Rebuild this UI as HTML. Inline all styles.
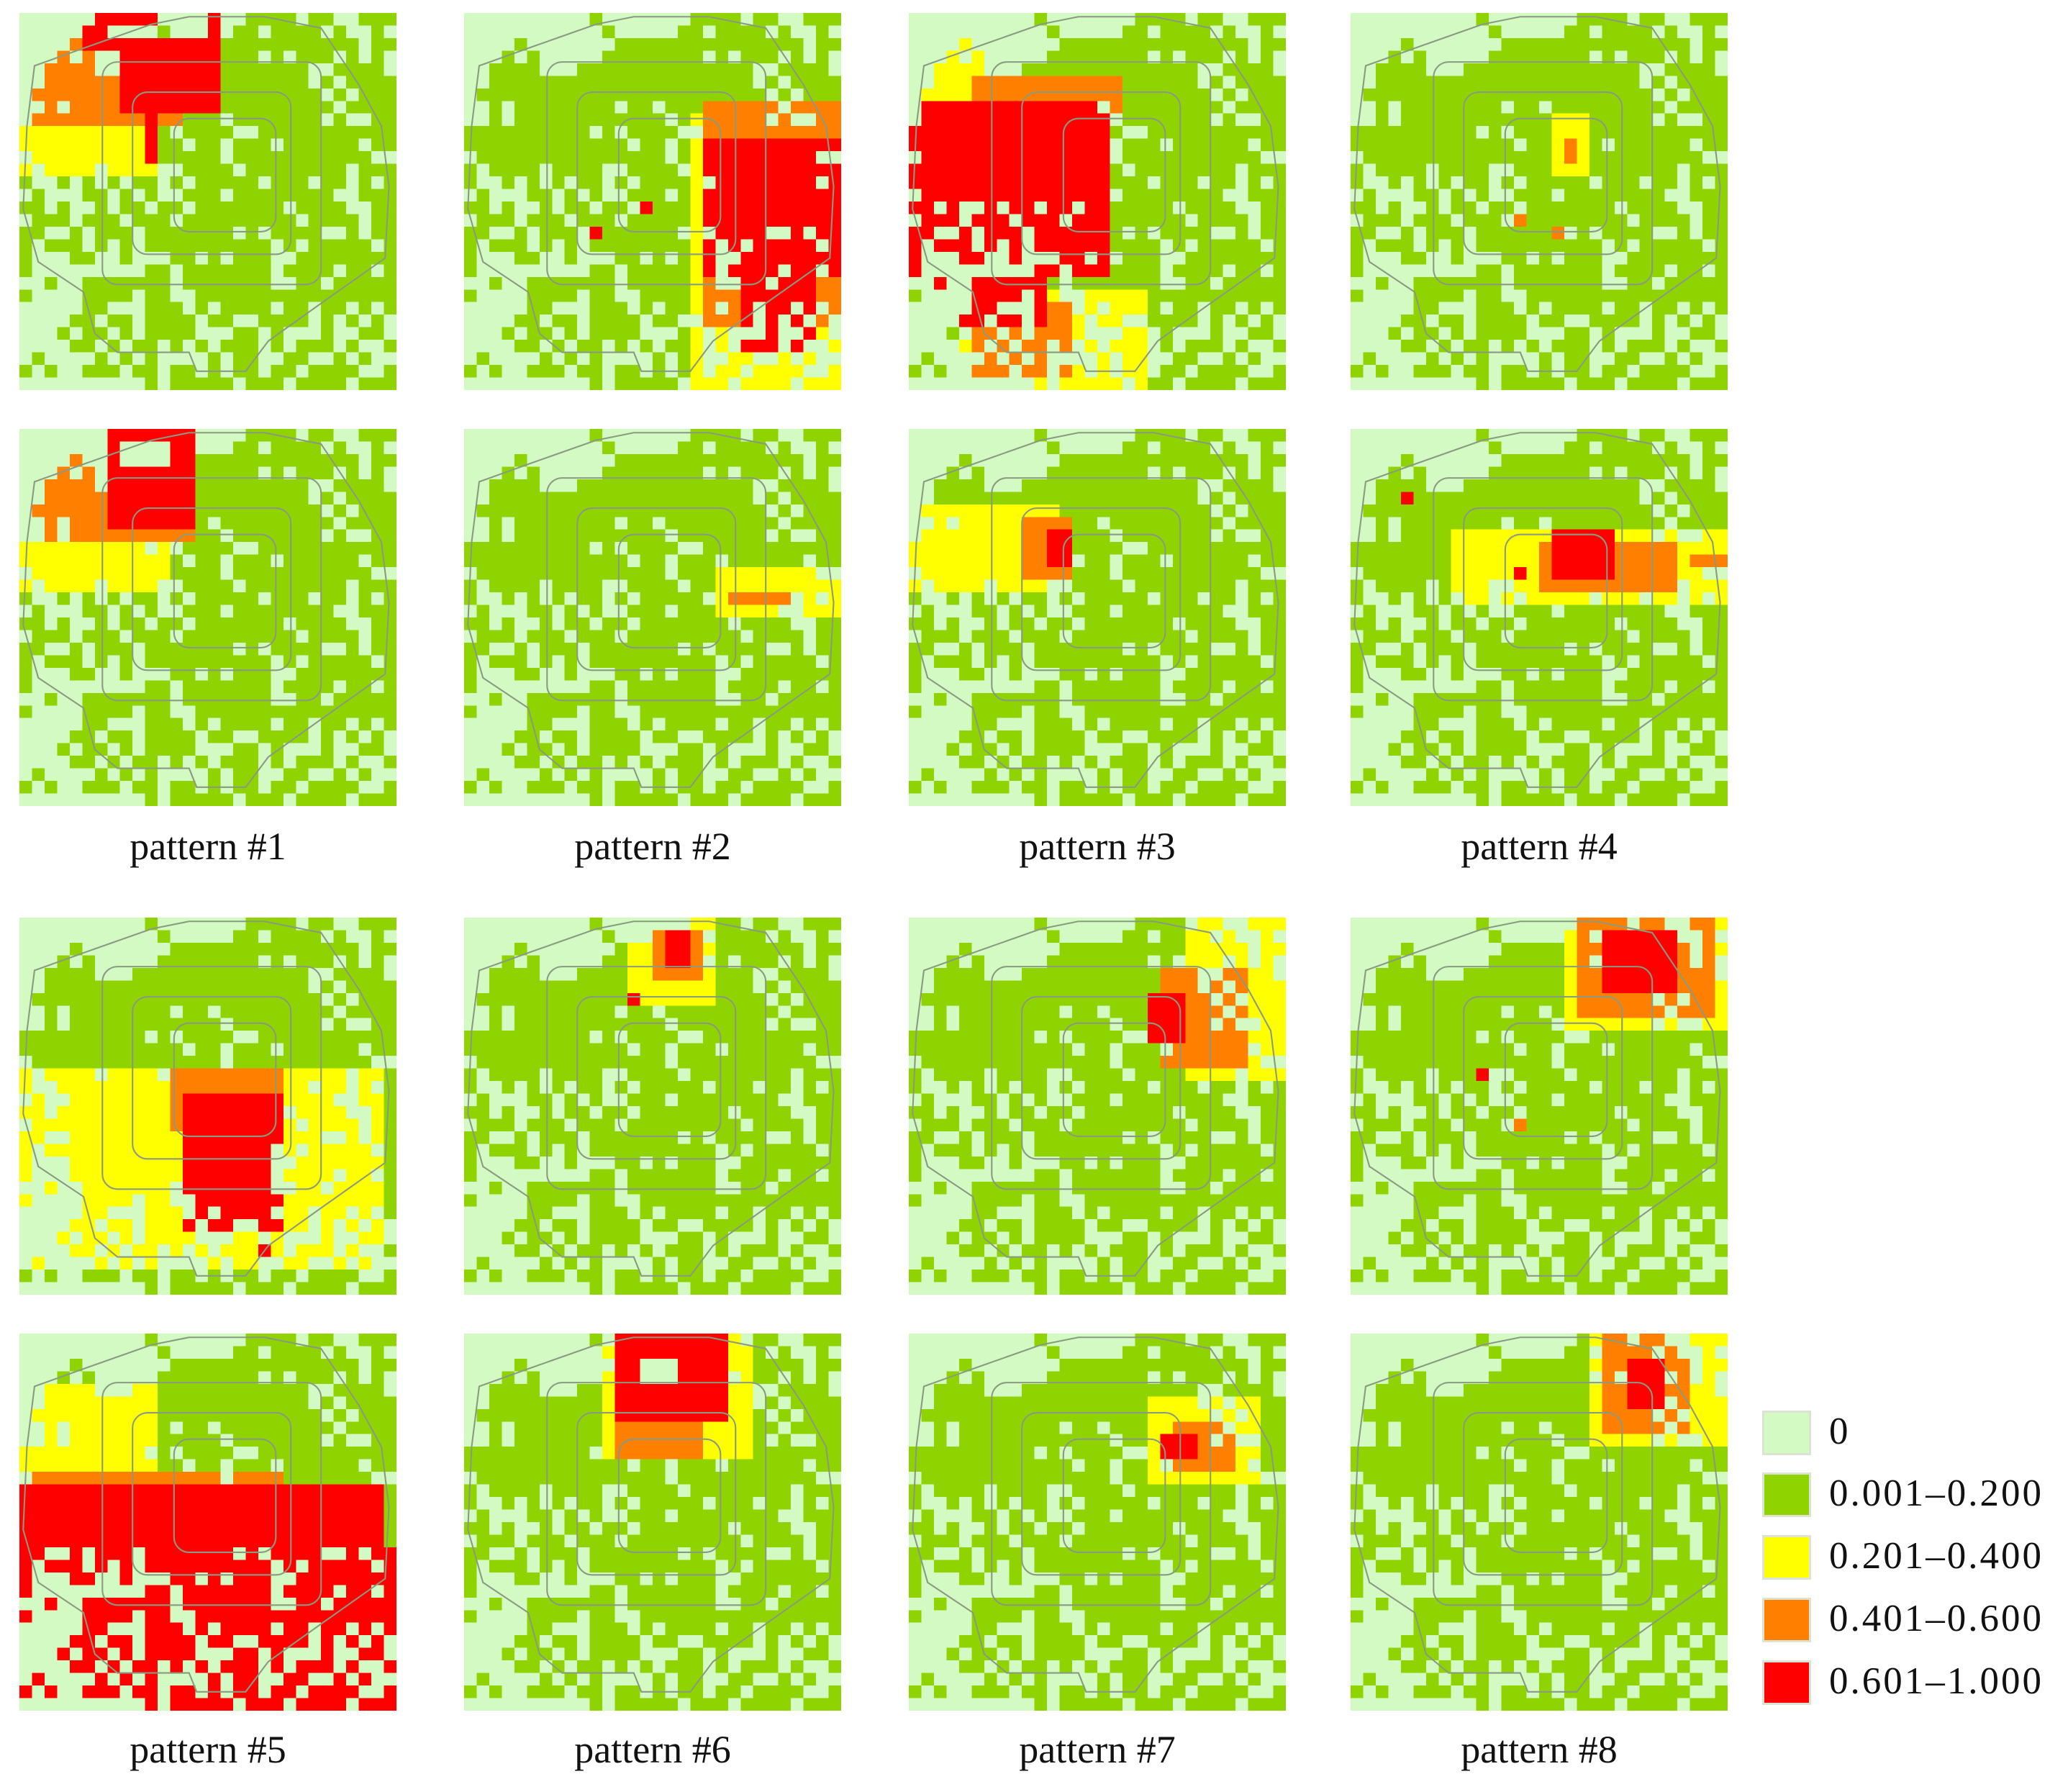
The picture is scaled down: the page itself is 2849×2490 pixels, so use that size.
<!DOCTYPE html>
<html><head><meta charset="utf-8"><style>
html,body{margin:0;padding:0;background:#fff;}
#root{position:relative;width:2849px;height:2490px;overflow:hidden;font-family:"Liberation Serif",serif;}
.map{position:absolute;width:524px;height:524px;}
.lbl{position:absolute;width:580px;text-align:center;font-size:54px;color:#111;}
.sw{position:absolute;left:2449px;width:68px;height:62px;box-sizing:border-box;border:3px solid #dde3d3;}
.lt{position:absolute;left:2542px;font-size:53px;color:#111;letter-spacing:3px;}
</style></head><body>
<div id="root"></div>
<script>
const levelColors = ["#d4fac4","#8fd400","#ffff00","#ff8000","#ff0000"];
const legendLabels = ["0","0.001\u20130.200","0.201\u20130.400","0.401\u20130.600","0.601\u20131.000"];
const patternLabels = ["pattern #1","pattern #2","pattern #3","pattern #4","pattern #5","pattern #6","pattern #7","pattern #8"];
const baseGrid = [
"..........1.......1111.11..111",
"...........1.....11.1111.1..1.",
"....1.......111111111111111.11",
"...1.1.....11111111.1.111.1.1.",
"..1111...11111111111111..1111.",
"..111111111111111111111.1.1111",
".11111111111111111111111.1.111",
"..1.11111111.11.111111111.1111",
"..1.111111111111.1111111.1..11",
"1111111111.1.1111..11111111111",
"1111111111111.11.111.111111.11",
".111111111111111.11111111111..",
"1.1111.1111..1111.11111111.111",
"1..1.1.1.11.1.11111.111.11.1.1",
".1...11.1.1..111.11111111..111",
"11.1..1.11.11.1111111.1111..11",
".111.111.111.111111111.1111.11",
"11..1.111.1111111.1.1111..1.11",
"1.111.1.1.1111111111.1.11111.1",
"1...11..1...11.1.111..11111111",
"1.........11.1111111.1111.11.1",
"..1..1111111.1111111..11.11111",
"1....1111.11..1111111111111111",
".....11...111.1.1111.11.11.1.1",
"....11.11.1111.11..1111.1.1.1.",
"...1.11.1.1111...11.1...1..11.",
"....11.1.11.1.1.111.1.111.1..1",
".1....1.1.1....1.11..11..1.1..",
"1.1..111.11.11.1.11.11.1111..1",
"..........1.11111.111.1111.111"
];
// hotspot overlays per map: [rowStart,colStart,rowEnd,colEnd,level,(onlyOnGreen)]
const hot1 = [[6,0,12,10,2,1],[8,1,9,8,2],[2,0,8,11,3,1],[3,9,8,12,3],[0,6,0,10,4],[0,15,1,15,4],[1,5,2,9,4],[2,8,7,15,4],[7,10,11,10,4],[1,7,1,9,0]];
const hot2 = [[8,18,29,29,2,1],[7,19,24,29,3,1],[10,19,20,29,4,1],[10,20,16,27,4],[21,22,26,27,4,1],[15,14,15,14,4],[17,10,17,10,4]];
const hot3 = [[0,0,6,6,2,1],[22,4,29,18,2,1],[5,5,8,16,3,1],[23,5,28,12,3,1],[7,0,20,15,4,1],[7,1,14,13,4],[20,2,24,10,4,1]];
const hot4 = [[8,16,12,18,2],[10,17,11,17,3],[16,13,16,13,3],[17,16,17,16,3]];
const hot5 = [[7,0,12,11,2,1],[0,0,8,13,3,1],[0,7,7,13,4],[1,8,2,11,0]];
const hot6 = [[11,20,14,29,2,1],[12,21,12,28,2],[13,21,13,25,3]];
const hot7 = [[6,0,12,11,2,1],[8,1,10,8,2],[7,9,11,12,3],[8,11,10,12,4]];
const hot8 = [[8,8,13,29,2,1],[9,9,11,20,2],[9,15,12,25,3],[8,16,11,20,4],[11,13,11,13,4],[5,4,5,4,4],[10,27,10,29,3]];
const hot9 = [[12,0,27,28,2,1],[13,4,20,15,2],[12,12,16,20,3],[14,13,24,20,4,1],[15,14,22,19,4],[26,19,26,19,4]];
const hot10 = [[0,13,6,19,2,1],[1,15,4,18,3],[1,16,3,17,4],[6,13,6,13,4]];
const hot11 = [[0,22,12,29,2,1],[4,20,11,26,3,1],[6,19,9,21,4]];
const hot12 = [[0,17,8,29,2,1],[0,18,7,28,3,1],[1,20,5,25,4],[12,10,12,10,4],[16,13,16,13,3]];
const hot13 = [[4,0,12,10,2,1],[11,0,12,20,3,1],[12,0,16,28,4],[17,0,29,29,4,1]];
const hot14 = [[0,11,9,22,2,1],[5,12,9,18,3],[0,12,6,20,4],[2,14,3,16,0]];
const hot15 = [[5,19,11,27,2,1],[7,21,10,25,3,1],[8,20,9,22,4]];
const hot16 = [[0,19,8,29,2,1],[0,20,7,26,3,1],[2,22,5,24,4]];
const hotspots = [hot1,hot2,hot3,hot4,hot5,hot6,hot7,hot8,hot9,hot10,hot11,hot12,hot13,hot14,hot15,hot16];

const N = 30, SIZE = 524;
const colX = [27,645,1263,1877];
const rowY = [18,596,1275,1853];
const labelY = [1145,2400];
const root = document.getElementById('root');
const NS = "http://www.w3.org/2000/svg";
const outline = "0.45,0.01 0.65,0.01 0.8,0.04 0.9,0.19 0.96,0.3 0.98,0.46 0.97,0.65 0.8,0.77 0.66,0.87 0.6,0.95 0.47,0.95 0.45,0.9 0.26,0.9 0.2,0.85 0.17,0.74 0.05,0.66 0.01,0.52 0.02,0.3 0.04,0.14 0.18,0.09 0.35,0.03";

hotspots.forEach((hs, m) => {
  const band = Math.floor(m/8), within = m%8;
  const r = band*2 + Math.floor(within/4), c = within%4;
  const grid = baseGrid.map(s => Array.from({length:N}, (_,i) => s.charAt(i)==='1'?1:0));
  hs.forEach(h => {
    for (let i=h[0]; i<=h[2]; i++) for (let j=h[1]; j<=h[3]; j++) {
      if (i<N && j<N && (!h[5] || grid[i][j]>0)) grid[i][j] = h[4];
    }
  });
  const svg = document.createElementNS(NS,'svg');
  svg.setAttribute('class','map');
  svg.setAttribute('viewBox','0 0 30 30');
  svg.setAttribute('preserveAspectRatio','none');
  svg.setAttribute('shape-rendering','crispEdges');
  svg.style.left = colX[c]+'px'; svg.style.top = rowY[r]+'px';
  
  
  for (let i=0;i<N;i++) for (let j=0;j<N;j++) {
    const rc = document.createElementNS(NS,'rect');
    rc.setAttribute('x', j); rc.setAttribute('y', i);
    rc.setAttribute('width', 1.02); rc.setAttribute('height', 1.02);
    rc.setAttribute('fill', levelColors[grid[i][j]]);
    svg.appendChild(rc);
  }
  const g = document.createElementNS(NS,'g');
  g.setAttribute('fill','none'); g.setAttribute('stroke','#8a9a80');
  g.setAttribute('stroke-width','0.12'); g.setAttribute('shape-rendering','auto');
  const poly = document.createElementNS(NS,'polygon');
  poly.setAttribute('points', outline.split(' ').map(p=>p.split(',').map(v=>(+v*30).toFixed(2)).join(',')).join(' '));
  g.appendChild(poly);
  [[0.22,0.13,0.8,0.72],[0.3,0.21,0.72,0.64],[0.41,0.28,0.68,0.58]].forEach(q=>{
    const rr = document.createElementNS(NS,'rect');
    rr.setAttribute('x', q[0]*30); rr.setAttribute('y', q[1]*30);
    rr.setAttribute('width', (q[2]-q[0])*30); rr.setAttribute('height', (q[3]-q[1])*30);
    rr.setAttribute('rx', 1.2);
    g.appendChild(rr);
  });
  svg.appendChild(g);
  root.appendChild(svg);
});

patternLabels.forEach((t,k) => {
  const d = document.createElement('div');
  d.className = 'lbl';
  d.style.left = (colX[k%4]-28)+'px';
  d.style.top = labelY[Math.floor(k/4)]+'px';
  d.textContent = t;
  
  
  root.appendChild(d);
});

const legendY = [1960,2046,2133,2220,2307];
legendLabels.forEach((t,k) => {
  const s = document.createElement('div');
  s.className = 'sw';
  s.style.top = legendY[k]+'px';
  s.style.background = levelColors[k];
  
  
  root.appendChild(s);
  const l = document.createElement('div');
  l.className = 'lt';
  l.style.top = (legendY[k]-1)+'px';
  l.textContent = t;
  
  
  root.appendChild(l);
});
</script>
</body></html>
